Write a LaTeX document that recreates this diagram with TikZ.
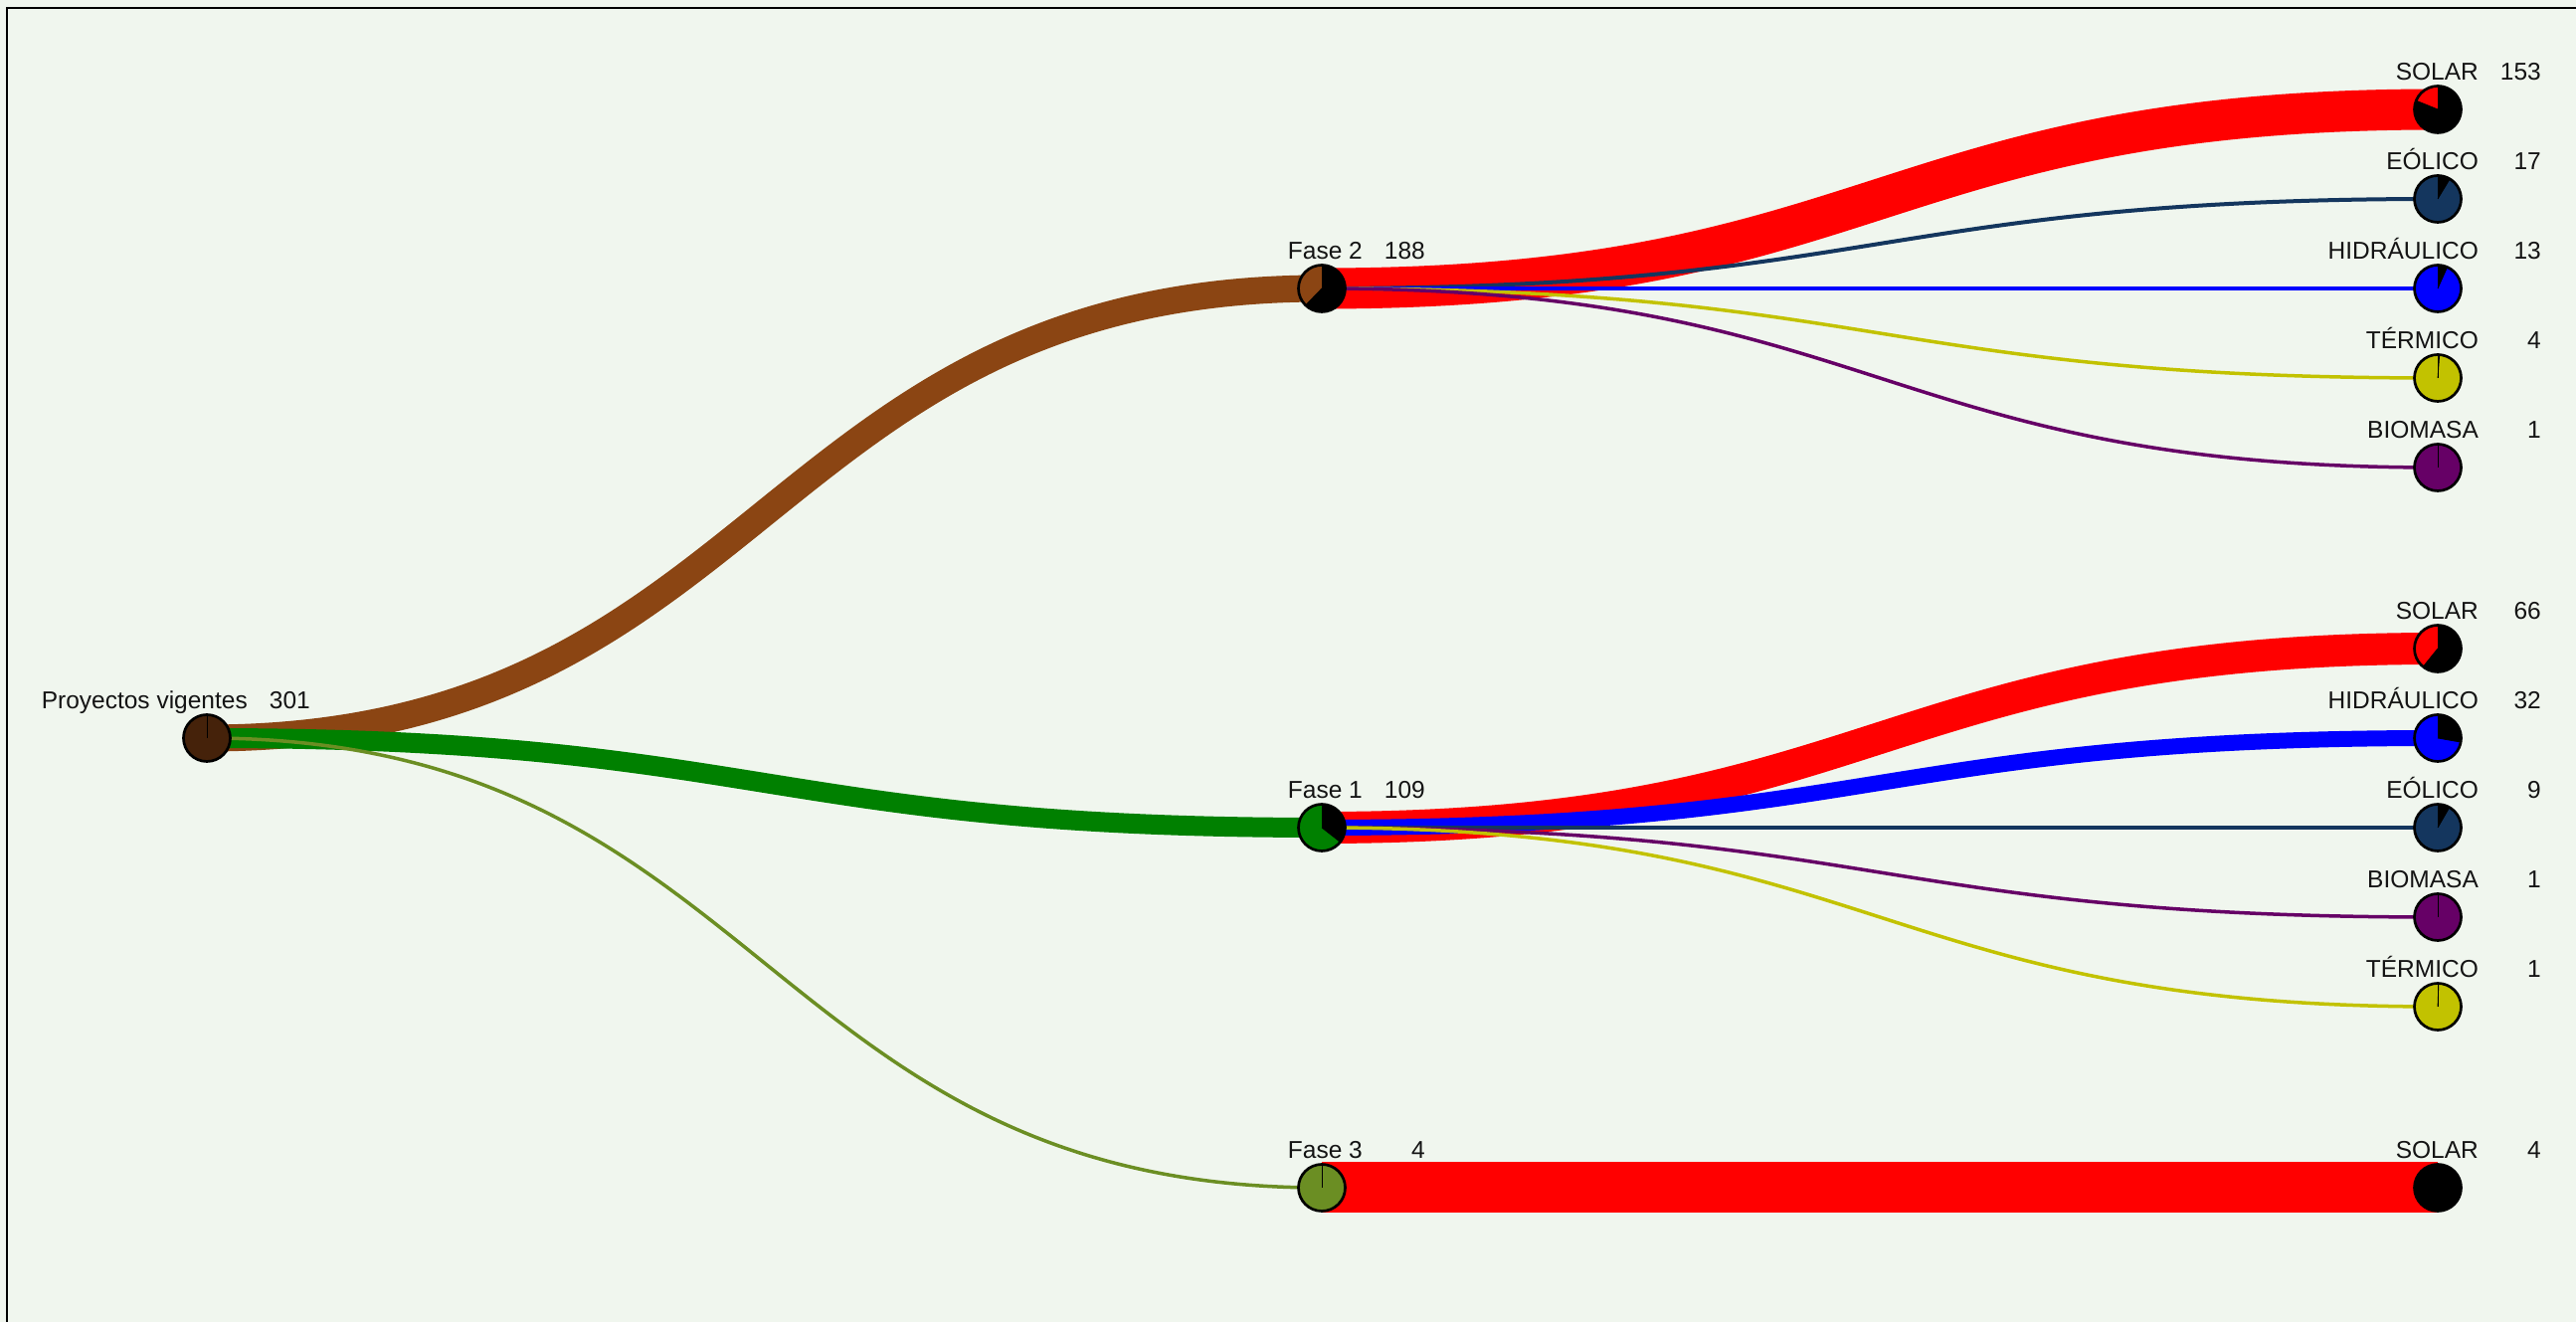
\documentclass[tikz,border=0pt]{standalone}
\usepackage{fontspec}
\setmainfont{Liberation Sans}
\usetikzlibrary{calc}
\pgfdeclarelayer{bgl}
\pgfdeclarelayer{linkl}
\pgfsetlayers{bgl,linkl,main}
\definecolor{bgc}{HTML}{F0F6EE}
\definecolor{txt}{HTML}{141414}
\definecolor{rootc}{HTML}{45220A}
\definecolor{brownc}{HTML}{8B4513}
\definecolor{greenc}{HTML}{008000}
\definecolor{olivec}{HTML}{6B8E23}
\definecolor{redc}{HTML}{FF0000}
\definecolor{navyc}{HTML}{14365E}
\definecolor{bluec}{HTML}{0000FF}
\definecolor{yellc}{HTML}{C2C200}
\definecolor{purpc}{HTML}{660066}
\tikzset{
  pie/.style={circle, draw=black, line width=2.7pt, minimum size=47pt, inner sep=0pt, outer sep=0pt},
  lbl/.style={font=\fontsize{24.5}{29}\selectfont, text=txt, inner sep=0pt, anchor=base east},
  flow/.style={line cap=butt}
}
\newcommand\pienode[5]{%
  \node[pie, fill=#4, path picture={
    \fill[black] (path picture bounding box.center) -- ++(90:30pt) arc[start angle=90, end angle={90-#5}, radius=30pt] -- cycle;
    \draw[black, line width=0.8pt] (path picture bounding box.center) -- ++(90:30pt);
    \draw[black, line width=0.8pt] (path picture bounding box.center) -- ++({90-#5}:30pt);
  }] (#1) at (#2,#3) {};}
\newcommand\nodelabels[3]{%
  \node[lbl] (#1-name) at ($(#1.center)+(41,29)$) {#2};
  \node[lbl] (#1-num) at ($(#1.center)+(104,29)$) {#3};}
\newcommand\flowlink[4]{%
  \draw[flow, #3, line width=#4pt] let \p1=(#1.center), \p2=(#2.center) in
    (\p1) .. controls ({(\x1+\x2)/2},\y1) and ({(\x1+\x2)/2},\y2) .. (\p2);}
\begin{document}
\begin{tikzpicture}[x=1pt,y=1pt]
\useasboundingbox (0,0) rectangle (2590,1329);
\begin{pgfonlayer}{bgl}
  \fill[bgc] (0,0) rectangle (2590,1329);
  \draw[black, line width=2.3pt] (7,0) -- (7,1321) -- (2590,1321);
\end{pgfonlayer}
% nodes
\pienode{root}{208}{587}{rootc}{0}
\pienode{f2}{1329}{1039}{brownc}{224}
\pienode{f1}{1329}{497}{greenc}{128}
\pienode{f3}{1329}{135}{olivec}{0}
\pienode{s153}{2451}{1219}{redc}{292}
\pienode{e17}{2451}{1129}{navyc}{31}
\pienode{h13}{2451}{1039}{bluec}{24}
\pienode{t4}{2451}{949}{yellc}{4}
\pienode{b1a}{2451}{859}{purpc}{0}
\pienode{s66}{2451}{677}{redc}{219}
\pienode{h32}{2451}{587}{bluec}{100}
\pienode{e9}{2451}{497}{navyc}{30}
\pienode{b1b}{2451}{407}{purpc}{0}
\pienode{t1}{2451}{317}{yellc}{2}
\pienode{s4}{2451}{135}{redc}{360}
% labels
\nodelabels{root}{Proyectos vigentes}{301}
\nodelabels{f2}{Fase 2}{188}
\nodelabels{f1}{Fase 1}{109}
\nodelabels{f3}{Fase 3}{4}
\nodelabels{s153}{SOLAR}{153}
\nodelabels{e17}{EÓLICO}{17}
\nodelabels{h13}{HIDRÁULICO}{13}
\nodelabels{t4}{TÉRMICO}{4}
\nodelabels{b1a}{BIOMASA}{1}
\nodelabels{s66}{SOLAR}{66}
\nodelabels{h32}{HIDRÁULICO}{32}
\nodelabels{e9}{EÓLICO}{9}
\nodelabels{b1b}{BIOMASA}{1}
\nodelabels{t1}{TÉRMICO}{1}
\nodelabels{s4}{SOLAR}{4}
% links
\begin{pgfonlayer}{linkl}
  \flowlink{root}{f2}{brownc}{27}
  \flowlink{root}{f1}{greenc}{20}
  \flowlink{root}{f3}{olivec}{3.5}
  \flowlink{f2}{s153}{redc}{41}
  \flowlink{f2}{e17}{navyc}{4}
  \flowlink{f2}{h13}{bluec}{3.5}
  \flowlink{f2}{t4}{yellc}{3.5}
  \flowlink{f2}{b1a}{purpc}{3.5}
  \flowlink{f1}{s66}{redc}{32}
  \flowlink{f1}{h32}{bluec}{16}
  \flowlink{f1}{e9}{navyc}{4}
  \flowlink{f1}{b1b}{purpc}{3.5}
  \flowlink{f1}{t1}{yellc}{3.5}
  \flowlink{f3}{s4}{redc}{51}
\end{pgfonlayer}
\end{tikzpicture}
\end{document}
